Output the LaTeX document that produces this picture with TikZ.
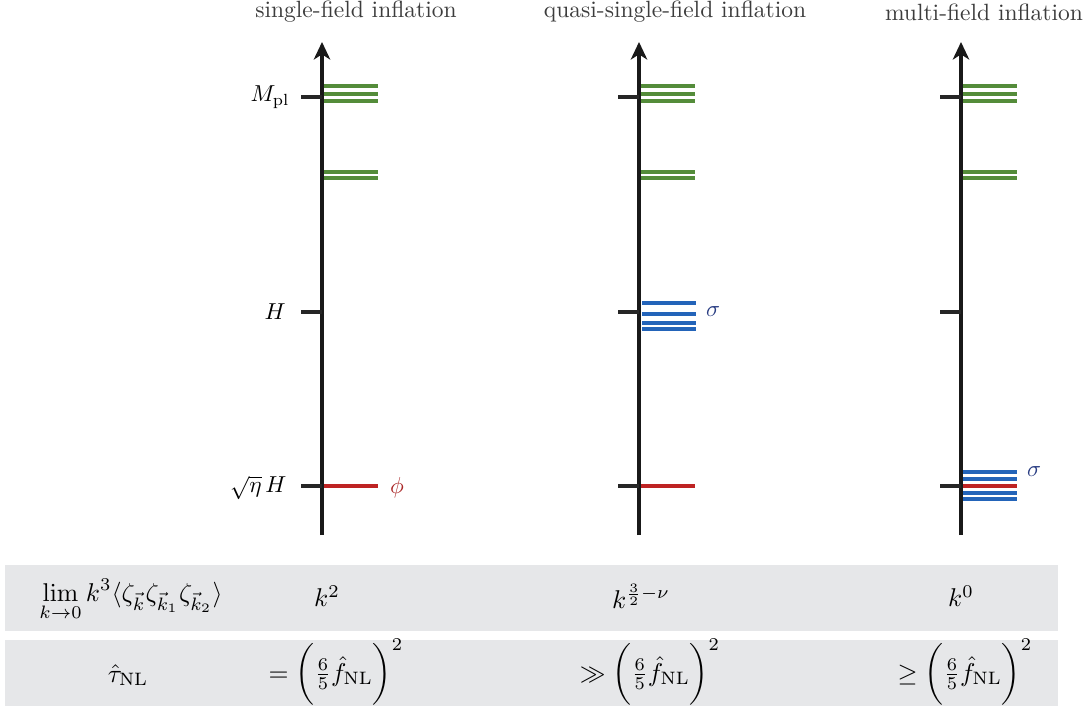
\documentclass[tikz,border=0pt]{standalone}
\usepackage{amsmath,amssymb}
\usepackage{graphicx}
\usetikzlibrary{arrows.meta}
\definecolor{lvgreen}{RGB}{84,140,58}
\definecolor{lvblue}{RGB}{35,100,185}
\definecolor{lvred}{RGB}{190,35,35}
\definecolor{bandcol}{RGB}{230,231,233}
\definecolor{sigcol}{RGB}{40,60,130}
\definecolor{phicol}{RGB}{170,40,40}
\definecolor{titlecol}{RGB}{60,60,60}
\newcommand{\rowtxt}[1]{\scalebox{1.17}{#1}}
\newcommand{\ttltxt}[1]{\scalebox{1.07}{#1}}
\newcommand{\labtxt}[1]{\scalebox{1.05}{#1}}
\begin{document}
\begin{tikzpicture}[x=0.455pt,y=-0.455pt,
  axisline/.style={line width=1.6pt,black!90,-{Stealth[length=8pt,width=7.5pt,inset=2.4pt]}},
  tickline/.style={line width=1.4pt,black!85},
  lev/.style={line width=1.45pt},
  title/.style={text=titlecol,inner sep=0pt},
  lab/.style={inner sep=0pt,anchor=east}]
\useasboundingbox (0,0) rectangle (1088,706);
% bands
\fill[bandcol] (5,565) rectangle (1058,631);
\fill[bandcol] (5,640) rectangle (1058,706);
% titles
\node[title] (t1) at (356,12) {\ttltxt{single-field inflation}};
\node[title] (t2) at (675,12) {\ttltxt{quasi-single-field inflation}};
\node[title] (t3) at (984,12) {\ttltxt{multi-field inflation}};
% axes
\foreach \n/\x in {1/322,2/639,3/961}{
  \coordinate (b\n) at (\x,535);
  \coordinate (u\n) at (\x,42);
  \draw[axisline] (b\n) -- (u\n);
  \foreach \y in {97,312,486}{
    \draw[tickline] (\x-21,\y) -- (\x,\y);
  }
  % green levels
  \foreach \y in {86,94,101,172,178}{
    \draw[lev,lvgreen] (\x+2,\y) -- (\x+56,\y);
  }
}
% single-field
\draw[lev,lvred] (324,486) -- (378,486);
% quasi-single-field
\foreach \y in {303,314,323,329}{\draw[lev,lvblue] (642,\y) -- (696,\y);}
\draw[lev,lvred] (641,486) -- (695,486);
% multi-field
\foreach \y in {472,479,493,499}{\draw[lev,lvblue] (963,\y) -- (1017,\y);}
\draw[lev,lvred] (963,486) -- (1017,486);
% labels
\node[lab] (mpl) at (290,97) {\labtxt{$M_{\rm pl}$}};
\node[lab] (hh) at (286,312) {\labtxt{$H$}};
\node[lab] (seh) at (287,488) {\labtxt{$\sqrt{\eta}\,H$}};
\node[inner sep=0pt,text=phicol] (phi) at (397,488) {\labtxt{$\phi$}};
\node[inner sep=0pt,text=sigcol] (sig1) at (713,312) {\labtxt{$\sigma$}};
\node[inner sep=0pt,text=sigcol] (sig2) at (1034,472) {\labtxt{$\sigma$}};
% table rows
\node (r1a) at (131,600) {\rowtxt{$\displaystyle\lim_{k\to0}k^3\langle\zeta_{\vec k}\zeta_{\vec k_1}\zeta_{\vec k_2}\rangle$}};
\node (r1b) at (327,596) {\rowtxt{$k^2$}};
\node (r1c) at (641,596) {\rowtxt{$k^{\frac32-\nu}$}};
\node (r1d) at (961,596) {\rowtxt{$k^0$}};
\node (r2a) at (128,675) {\rowtxt{$\hat\tau_{\rm NL}$}};
\node (r2b) at (336,672) {\rowtxt{$=\bigg(\frac65\hat f_{\rm NL}\bigg)^2$}};
\node (r2c) at (650,672) {\rowtxt{$\gg\bigg(\frac65\hat f_{\rm NL}\bigg)^2$}};
\node (r2d) at (965,672) {\rowtxt{$\geq\bigg(\frac65\hat f_{\rm NL}\bigg)^2$}};
\end{tikzpicture}
\end{document}
